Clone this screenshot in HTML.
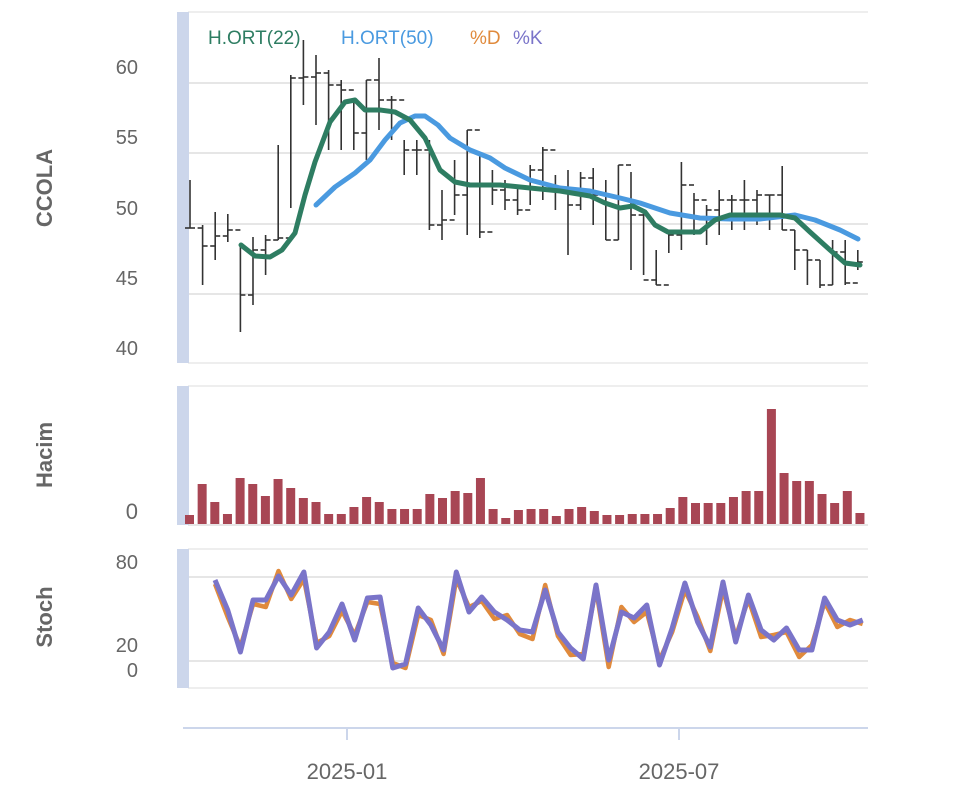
<!DOCTYPE html>
<html><head><meta charset="utf-8"><style>
html,body{margin:0;padding:0;background:#fff;width:960px;height:807px;overflow:hidden}
svg text{font-family:"Liberation Sans","DejaVu Sans",sans-serif}
</style></head><body>
<svg id="s" width="960" height="807" xmlns="http://www.w3.org/2000/svg">
<rect width="960" height="807" fill="#fff"/>
<line x1="188" y1="12" x2="868" y2="12" stroke="#eee" stroke-width="2"/>
<line x1="188" y1="83" x2="868" y2="83" stroke="#e6e6e6" stroke-width="2"/>
<line x1="188" y1="153" x2="868" y2="153" stroke="#e6e6e6" stroke-width="2"/>
<line x1="188" y1="224" x2="868" y2="224" stroke="#e6e6e6" stroke-width="2"/>
<line x1="188" y1="294" x2="868" y2="294" stroke="#e6e6e6" stroke-width="2"/>
<line x1="188" y1="363" x2="868" y2="363" stroke="#eee" stroke-width="2"/>
<rect x="177" y="12" width="12" height="351" fill="#ccd6eb"/>
<g font-size="20" fill="#666" text-anchor="end">
<text x="138" y="74">60</text><text x="138" y="144">55</text><text x="138" y="215">50</text><text x="138" y="285">45</text><text x="138" y="355">40</text>
</g>
<text transform="translate(52,188) rotate(-90)" font-size="22" font-weight="bold" fill="#666" text-anchor="middle">CCOLA</text>
<g font-size="19">
<text x="208" y="44" fill="#2e7d62">H.ORT(22)</text>
<text x="341" y="44" fill="#4a9ae0">H.ORT(50)</text>
<text x="470" y="44" fill="#e08a3c">%D</text>
<text x="513" y="44" fill="#7a74c9">%K</text>
</g>
<g id="bars" stroke="#333" stroke-width="1.6" fill="none"></g>
<polyline fill="none" stroke="#4a9ae0" stroke-width="5" stroke-linejoin="round" stroke-linecap="round" points="316,205 335,187 355,173 370,160 385,140 400,123 415,116 425,116 438,125 450,138 470,150 490,158 505,168 530,180 560,188 590,191 620,198 640,203 670,213 700,218 730,219 760,219 795,215 815,220 840,230 858,239"/>
<polyline fill="none" stroke="#2e7d62" stroke-width="5" stroke-linejoin="round" stroke-linecap="round" points="241,245 255,256 270,257 282,250 295,233 305,195 315,162 330,122 345,102 355,100 365,110 380,110 395,112 410,120 425,138 440,170 455,182 470,185 500,185 530,188 560,191 590,196 605,203 620,208 633,206 645,212 655,225 668,232 700,232 715,220 730,215 780,215 795,218 810,232 830,250 845,263 860,265"/>
<line x1="188" y1="386" x2="868" y2="386" stroke="#eee" stroke-width="2"/>
<line x1="188" y1="525" x2="868" y2="525" stroke="#e6e6e6" stroke-width="2"/>
<rect x="177" y="386" width="12" height="139" fill="#ccd6eb"/>
<text x="138" y="519" font-size="22" fill="#666" text-anchor="end">0</text>
<text transform="translate(52,455) rotate(-90)" font-size="22" font-weight="bold" fill="#666" text-anchor="middle">Hacim</text>
<g id="vol" fill="#a84654"></g>
<line x1="188" y1="549" x2="868" y2="549" stroke="#eee" stroke-width="2"/>
<line x1="188" y1="577" x2="868" y2="577" stroke="#e6e6e6" stroke-width="2"/>
<line x1="188" y1="661" x2="868" y2="661" stroke="#e6e6e6" stroke-width="2"/>
<line x1="188" y1="688" x2="868" y2="688" stroke="#eee" stroke-width="2"/>
<rect x="177" y="549" width="12" height="139" fill="#ccd6eb"/>
<g font-size="20" fill="#666" text-anchor="end">
<text x="138" y="569">80</text><text x="138" y="652">20</text><text x="138" y="677">0</text>
</g>
<text transform="translate(52,617) rotate(-90)" font-size="22" font-weight="bold" fill="#666" text-anchor="middle">Stoch</text>
<polyline id="pd" fill="none" stroke="#e08a3c" stroke-width="4.5" stroke-linejoin="round"/>
<polyline id="pk" fill="none" stroke="#7a74c9" stroke-width="5" stroke-linejoin="round"/>
<line x1="183" y1="728" x2="868" y2="728" stroke="#ccd6eb" stroke-width="2"/>
<line x1="347" y1="728" x2="347" y2="740" stroke="#ccd6eb" stroke-width="2"/>
<line x1="679" y1="728" x2="679" y2="740" stroke="#ccd6eb" stroke-width="2"/>
<g font-size="22" fill="#666" text-anchor="middle"><text x="347" y="779">2025-01</text><text x="679" y="779">2025-07</text></g>
</svg>
<script>
var B=[[180,228,228],[225,285,246],[212,260,236],[214,242,230],[243,332,295],[237,305,250],[235,275,240],[145,240,238],[75,208,78],[40,105,77],[55,125,73],[70,150,85],[80,150,90],[100,150,133],[80,160,80],[58,130,100],[96,140,100],[140,175,150],[140,175,150],[140,230,225],[190,240,220],[160,215,195],[130,235,130],[155,238,232],[170,205,190],[180,210,200],[185,215,210],[165,205,170],[147,200,150],[175,210,188],[170,255,205],[172,210,178],[168,225,195],[180,240,240],[165,240,165],[172,270,215],[210,275,280],[250,285,285],[230,253,235],[162,250,185],[193,235,200],[205,245,210],[190,235,200],[195,230,200],[180,230,200],[190,225,195],[195,230,195],[166,230,230],[230,270,250],[250,285,260],[260,288,285],[240,285,252],[240,285,283],[250,270,262]];
var g=document.getElementById('bars'),h='',prev=228;
B.forEach(function(b,i){var x=190+12.6*i;h+='<line x1="'+x+'" y1="'+b[0]+'" x2="'+x+'" y2="'+b[1]+'"/><line x1="'+(x-5)+'" y1="'+prev+'" x2="'+x+'" y2="'+prev+'"/><line x1="'+x+'" y1="'+b[2]+'" x2="'+(x+5)+'" y2="'+b[2]+'"/>';prev=b[2];});
g.innerHTML=h;
var V=[515,484,502,514,478,484,496,479,488,498,502,514,514,507,497,502,509,509,509,494,498,491,493,478,509,518,510,509,509,516,509,507,511,515,515,514,514,514,508,497,503,503,503,497,491,491,409,473,481,481,494,503,491,513];
h='';V.forEach(function(v,i){var x=185+12.65*i;h+='<rect x="'+x+'" y="'+v+'" width="9" height="'+(524-v)+'"/>';});
document.getElementById('vol').innerHTML=h;
var K=[580,610,652,600,600,576,595,572,648,632,604,640,598,597,668,664,608,625,650,572,612,597,612,620,630,632,590,632,648,659,585,660,612,618,605,665,628,583,622,647,582,642,595,630,640,628,650,650,598,620,625,620];
var pk='',pd='';K.forEach(function(k,i){var x=215+12.7*i;pk+=x+','+k+' ';var d=k+((i%3==1)?7:(i%3==2)?-5:4);pd+=x+','+d+' ';});
document.getElementById('pk').setAttribute('points',pk);
document.getElementById('pd').setAttribute('points',pd);
</script>
</body></html>
